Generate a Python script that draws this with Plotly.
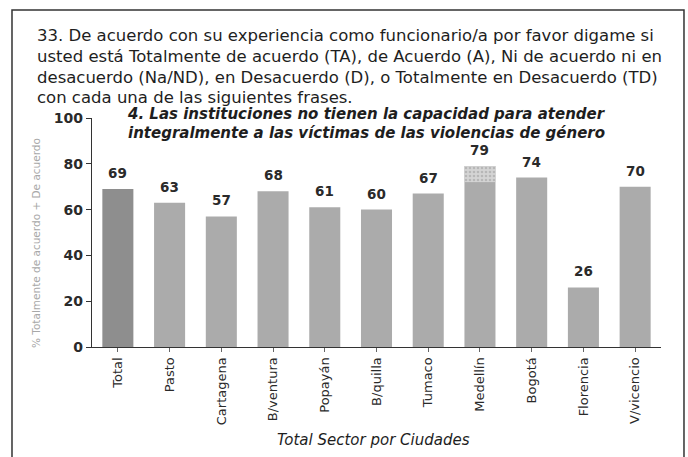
import plotly.graph_objects as go

# Categories and percentages (Totalmente de acuerdo + De acuerdo)
ciudades = ["Total", "Pasto", "Cartagena", "B/ventura", "Popayán", "B/quilla",
            "Tumaco", "Medellín", "Bogotá", "Florencia", "V/vicencio"]
valores = [69, 63, 57, 68, 61, 60, 67, 79, 74, 26, 70]
# Medellín bar carries a stippled upper segment starting at this level
medellin_base = 72

colores = ["#8e8e8e"] + ["#ababab"] * (len(ciudades) - 1)

fig = go.Figure()
fig.add_trace(go.Bar(
    x=ciudades, y=valores,
    marker=dict(color=colores, line=dict(width=0)),
    hoverinfo="x+y",
))
# Stippled upper segment of the Medellín bar
fig.add_trace(go.Bar(
    x=["Medellín"], y=[valores[ciudades.index("Medellín")] - medellin_base],
    base=[medellin_base],
    marker=dict(color="#d2d2d2", line=dict(width=0),
                pattern=dict(shape=".", fgcolor="#9a9a9a", bgcolor="#d4d4d4",
                             size=4, solidity=0.35)),
    hoverinfo="skip",
))

# Value labels above the bars
for c, v in zip(ciudades, valores):
    fig.add_annotation(x=c, y=v, text=str(v), showarrow=False,
                       yanchor="middle", yshift=16,
                       font=dict(family="DejaVu Sans", size=13.5, color="#2a2a2a",
                                 weight="bold"))

# Question header
encabezado = [
    "33. De acuerdo con su experiencia como funcionario/a por favor digame si",
    "usted está Totalmente de acuerdo (TA), de Acuerdo (A), Ni de acuerdo ni en",
    "desacuerdo (Na/ND), en Desacuerdo (D), o Totalmente en Desacuerdo (TD)",
    "con cada una de las siguientes frases.",
]
header_y = [1.3624, 1.2707, 1.179, 1.0917]
for linea, yy in zip(encabezado, header_y):
    fig.add_annotation(x=-0.1002, y=yy, xref="paper", yref="paper",
                       text=linea, showarrow=False, xanchor="left", yanchor="middle",
                       font=dict(family="DejaVu Sans", size=16.5, color="#1e1e1e"))

# Chart title
titulo = ["4. Las instituciones no tienen la capacidad para atender",
          "integralmente a las víctimas de las violencias de género"]
titulo_y = [1.0175, 0.9345]
for linea, yy in zip(titulo, titulo_y):
    fig.add_annotation(x=0.4833, y=yy, xref="paper", yref="paper",
                       text=f"<i>{linea}</i>", showarrow=False,
                       xanchor="center", yanchor="middle",
                       font=dict(family="DejaVu Sans", size=15, color="#1e1e1e",
                                 weight="bold"))

# Axis titles
fig.add_annotation(x=-0.0984, y=0.454, xref="paper", yref="paper",
                   text="% Totalmente de acuerdo + De acuerdo", textangle=-90,
                   showarrow=False, xanchor="center", yanchor="middle",
                   font=dict(family="DejaVu Sans", size=10.5, color="#a8a8a8"))
fig.add_annotation(x=0.4939, y=-0.406, xref="paper", yref="paper",
                   text="<i>Total Sector por Ciudades</i>", showarrow=False,
                   xanchor="center", yanchor="middle",
                   font=dict(family="DejaVu Sans", size=15, color="#1e1e1e"))

# Frame around the whole figure
fig.add_shape(type="rect", xref="paper", yref="paper",
              x0=-0.1406, x1=1.0404, y0=-0.52, y1=1.4716,
              line=dict(color="#333333", width=1.5), fillcolor="rgba(0,0,0,0)",
              layer="below")

fig.update_layout(
    width=688, height=457,
    margin=dict(l=92, r=27, t=118, b=110),
    paper_bgcolor="white", plot_bgcolor="white",
    barmode="overlay", bargap=0.4,
    showlegend=False,
    xaxis=dict(
        tickangle=-90, showline=True, linecolor="#333333", linewidth=1.2,
        ticks="outside", ticklen=4, tickcolor="#666666",
        tickfont=dict(family="DejaVu Sans", size=13, color="#2a2a2a"),
        showgrid=False, fixedrange=True,
    ),
    yaxis=dict(
        range=[0, 100], tickvals=[0, 20, 40, 60, 80, 100],
        showline=True, linecolor="#333333", linewidth=1.2,
        ticks="outside", ticklen=5, tickcolor="#333333",
        tickfont=dict(family="DejaVu Sans", size=14, color="#2a2a2a", weight="bold"),
        showgrid=False, zeroline=False, fixedrange=True,
    ),
)

fig.write_html("out.html")
